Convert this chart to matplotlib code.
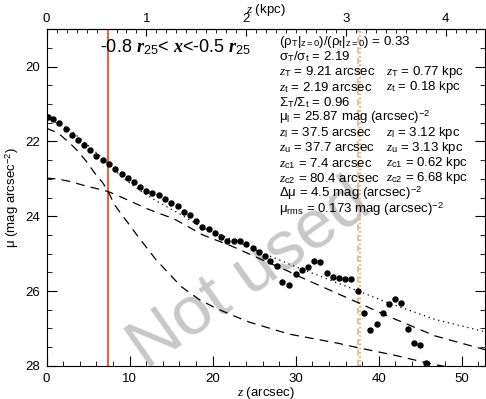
import numpy as np
import matplotlib
matplotlib.use("Agg")
import matplotlib.pyplot as plt
from matplotlib.ticker import MultipleLocator

plt.rcParams['font.family'] = ['Liberation Sans', 'DejaVu Sans']
plt.rcParams['mathtext.fontset'] = 'custom'
plt.rcParams['mathtext.rm'] = 'Liberation Sans'
plt.rcParams['mathtext.it'] = 'Liberation Serif:italic'
plt.rcParams['mathtext.bf'] = 'Liberation Serif:italic:bold'
plt.rcParams['xtick.direction'] = 'in'
plt.rcParams['ytick.direction'] = 'in'

# measured profile (z in arcsec, mu in mag arcsec^-2)
z_obs = [0.12, 0.79, 1.51, 2.28, 3.00, 3.75, 4.48, 5.23, 6.00, 6.76,
         7.51, 8.28, 9.04, 9.76, 10.52, 11.24, 12.00, 12.72, 13.48, 14.24,
         15.00, 15.76, 16.52, 17.29, 18.00, 18.76, 19.52, 20.29, 21.04, 21.76,
         22.52, 23.24, 24.05, 24.80, 25.52, 26.24, 26.96, 27.76, 28.40, 29.21,
         30.01, 30.73, 31.49, 32.24, 32.96, 33.73, 34.49, 35.21, 35.99, 36.71,
         37.46, 38.25, 38.97, 39.73, 40.49, 41.23, 41.97, 42.73, 43.49, 44.23,
         44.97, 45.73]
mu_obs = [21.35, 21.41, 21.51, 21.66, 21.82, 21.96, 22.10, 22.23, 22.38, 22.51,
          22.60, 22.73, 22.87, 22.97, 23.08, 23.21, 23.32, 23.39, 23.43, 23.54,
          23.64, 23.74, 23.89, 23.97, 24.13, 24.28, 24.33, 24.44, 24.55, 24.65,
          24.67, 24.67, 24.74, 24.85, 24.95, 25.06, 25.20, 25.32, 25.76, 25.83,
          25.54, 25.44, 25.36, 25.20, 25.22, 25.51, 25.63, 25.65, 25.68, 25.68,
          25.99, 26.58, 27.05, 26.87, 26.58, 26.34, 26.20, 26.33, 27.02, 27.40,
          27.43, 27.91]

# thin disc model
z_thin = [0.0, 1.4, 2.8, 3.8, 4.8, 5.8, 6.8, 7.4, 8.2, 9.2, 9.6, 11.2, 13.2,
          16.2, 18.4, 20.4, 22.4, 24.4, 29.2, 35.2, 37.2, 42.0, 46.0, 47.6, 53.0]
mu_thin = [21.65, 21.78, 22.05, 22.27, 22.54, 22.85, 23.12, 23.34, 23.70, 24.01,
           24.12, 24.60, 25.17, 25.88, 26.23, 26.46, 26.65, 26.83, 27.15, 27.40,
           27.50, 27.72, 27.93, 28.00, 28.22]

# thick disc model
z_thick = [0.0, 1.4, 2.8, 4.2, 5.8, 7.4, 9.0, 10.6, 12.2, 14.6, 15.6, 18.8,
           22.4, 26.4, 29.2, 30.0, 37.2, 41.2, 46.8, 53.0]
mu_thick = [22.98, 23.01, 23.07, 23.16, 23.25, 23.34, 23.49, 23.65, 23.81, 24.01,
            24.10, 24.50, 24.81, 25.21, 25.48, 25.57, 26.28, 26.68, 27.20, 27.58]

# total model
z_tot = [0.0, 2.8, 4.8, 6.8, 9.2, 11.2, 13.2, 16.2, 18.8, 22.4, 26.4, 30.0,
         37.2, 41.2, 46.8, 53.0]
mu_tot = [21.37, 21.69, 22.07, 22.46, 22.98, 23.31, 23.59, 23.96, 24.31, 24.63,
          25.02, 25.35, 25.97, 26.32, 26.76, 27.10]

z_c1 = 7.4
z_l = 37.5
z_u = 37.7
kpc_per_arcsec = 0.0832

info_left = [r'(ρ$_\mathrm{T}$|$_\mathrm{z=0}$)/(ρ$_\mathrm{t}$|$_\mathrm{z=0}$) = 0.33',
             r'σ$_\mathrm{T}$/σ$_\mathrm{t}$ = 2.19',
             r'$\mathit{z}_\mathrm{T}$ = 9.21 arcsec',
             r'$\mathit{z}_\mathrm{t}$ = 2.19 arcsec',
             r'Σ$_\mathrm{T}$/Σ$_\mathrm{t}$ = 0.96',
             r'μ$_\mathrm{l}$ = 25.87 mag (arcsec)$^\mathrm{-2}$',
             r'$\mathit{z}_\mathrm{l}$ = 37.5 arcsec',
             r'$\mathit{z}_\mathrm{u}$ = 37.7 arcsec',
             r'$\mathit{z}_\mathrm{c1}$ = 7.4 arcsec',
             r'$\mathit{z}_\mathrm{c2}$ = 80.4 arcsec',
             r'Δμ = 4.5 mag (arcsec)$^\mathrm{-2}$',
             r'μ$_\mathrm{rms}$ = 0.173 mag (arcsec)$^\mathrm{-2}$']
info_right = {2: r'$\mathit{z}_\mathrm{T}$ = 0.77 kpc',
              3: r'$\mathit{z}_\mathrm{t}$ = 0.18 kpc',
              6: r'$\mathit{z}_\mathrm{l}$ = 3.12 kpc',
              7: r'$\mathit{z}_\mathrm{u}$ = 3.13 kpc',
              8: r'$\mathit{z}_\mathrm{c1}$ = 0.62 kpc',
              9: r'$\mathit{z}_\mathrm{c2}$ = 6.68 kpc'}

fig = plt.figure(figsize=(4.86, 3.99), dpi=100)
ax = fig.add_axes([0.096, 0.083, 0.902, 0.844])

ax.text(0.463, 0.27, 'Not used', transform=ax.transAxes, fontsize=50,
        color='#c8c8c8', rotation=35, ha='center', va='center', zorder=0)

ax.plot(z_thin, mu_thin, color='k', lw=0.9, ls=(0, (7, 5)), zorder=2)
ax.plot(z_thick, mu_thick, color='k', lw=0.9, ls=(0, (7, 5)), zorder=2)
ax.plot(z_tot, mu_tot, color='k', lw=0.9, ls=(0, (1, 3)), zorder=2)
ax.plot(z_obs, mu_obs, 'o', color='k', ms=3.6, zorder=3)

ax.axvline(z_c1, color='#ef6236', lw=1.5, zorder=1)
ax.axvline(z_l, color='#c8c8c8', lw=1.5, ls=(0, (3, 2)), zorder=1)
ax.axvline(z_u, color='#ffa020', lw=1.2, ls=(0, (1, 1.5)), zorder=1)

ax.set_xlim(0, 52.8)
ax.set_ylim(28, 19)
ax.xaxis.set_major_locator(MultipleLocator(10))
ax.xaxis.set_minor_locator(MultipleLocator(2))
ax.yaxis.set_major_locator(MultipleLocator(2))
ax.yaxis.set_minor_locator(MultipleLocator(0.5))
ax.tick_params(which='both', right=True, labelsize=9.5, pad=5)
ax.tick_params(which='major', length=7)
ax.tick_params(which='minor', length=3.5)
ax.set_xlabel(r'$\mathit{z}$ (arcsec)', fontsize=9.5)
ax.set_ylabel(r'μ (mag arcsec$^\mathrm{-2}$)', fontsize=9.5)
ax.xaxis.set_label_coords(0.5, -0.058)
ax.yaxis.set_label_coords(-0.058, 0.5)

top = ax.secondary_xaxis('top', functions=(lambda a: a * kpc_per_arcsec,
                                           lambda k: k / kpc_per_arcsec))
top.xaxis.set_major_locator(MultipleLocator(1))
top.xaxis.set_minor_locator(MultipleLocator(0.1))
top.tick_params(which='both', direction='in', labelsize=9.5, pad=3)
top.tick_params(which='major', length=5)
top.tick_params(which='minor', length=3)
top.set_xlabel(r'$\mathit{z}$ (kpc)', fontsize=9.5, labelpad=0)

ax.text(0.121, 0.947, r'-0.8 $\mathbf{r}_\mathrm{25}$< $\mathbf{x}$<-0.5 $\mathbf{r}_\mathrm{25}$',
        transform=ax.transAxes, fontsize=13, ha='left', va='center')

for i, s in enumerate(info_left):
    y = (366 - (41.7 + 15.2 * i)) / 336.7
    ax.text(0.5295, y, s, transform=ax.transAxes, fontsize=9.5, ha='left', va='center')
    if i in info_right:
        ax.text(0.774, y, info_right[i], transform=ax.transAxes, fontsize=9.5,
                ha='left', va='center')

fig.savefig('out.png', dpi=100)
